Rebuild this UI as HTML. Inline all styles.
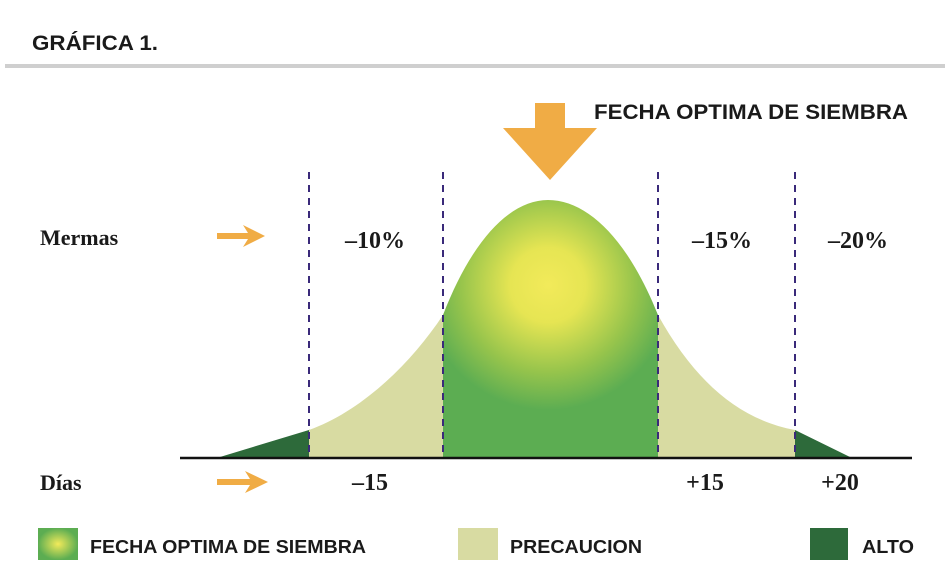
<!DOCTYPE html>
<html><head><meta charset="utf-8"><style>
body{margin:0;background:#fff;width:952px;height:578px;overflow:hidden}
svg{display:block}
.s{font-family:"Liberation Sans",sans-serif;font-weight:bold;fill:#1a1a1a}
.r{font-family:"Liberation Serif",serif;font-weight:bold;fill:#1a1a1a}
</style></head><body>
<svg width="952" height="578" viewBox="0 0 952 578">
<defs>
<radialGradient id="g" cx="548" cy="285" r="125" gradientUnits="userSpaceOnUse">
<stop offset="0" stop-color="#f2ea5a"/><stop offset="0.3" stop-color="#e6e553"/><stop offset="0.7" stop-color="#96c44c"/><stop offset="1" stop-color="#5cad52"/></radialGradient>
<radialGradient id="g2" cx="0.5" cy="0.5" r="0.5"><stop offset="0" stop-color="#f2ea5a"/><stop offset="1" stop-color="#5cad52"/></radialGradient>
<clipPath id="c"><path d="M220,457 L309,430 C360,412 410,365 443,315 C472,240 510,200 548,200 C588,200 628,240 658,315 C695,382 740,420 795,430 L850,457 Z"/></clipPath>
</defs>
<text x="32" y="50" class="s" font-size="21" textLength="126" lengthAdjust="spacingAndGlyphs">GRÁFICA 1.</text>
<rect x="5" y="64" width="940" height="4" fill="#cfcfcf"/>
<path d="M535,103 H565 V128 H597 L550,180 L503,128 H535 Z" fill="#f0ac45"/>
<text x="594" y="119" class="s" font-size="21" textLength="314" lengthAdjust="spacingAndGlyphs">FECHA OPTIMA DE SIEMBRA</text>
<g clip-path="url(#c)">
<rect x="200" y="190" width="110" height="270" fill="#2d6a3a"/>
<rect x="309" y="190" width="134" height="270" fill="#d8dba2"/>
<rect x="443" y="190" width="215" height="270" fill="url(#g)"/>
<rect x="658" y="190" width="137" height="270" fill="#d8dba2"/>
<rect x="795" y="190" width="70" height="270" fill="#2d6a3a"/>
</g>
<g stroke="#3a2a7a" stroke-width="2" stroke-dasharray="7,6">
<line x1="309" y1="172" x2="309" y2="457"/><line x1="443" y1="172" x2="443" y2="457"/>
<line x1="658" y1="172" x2="658" y2="457"/><line x1="795" y1="172" x2="795" y2="457"/>
</g>
<line x1="180" y1="458" x2="912" y2="458" stroke="#111" stroke-width="2.5"/>
<text x="40" y="245" class="r" font-size="22">Mermas</text>
<text x="40" y="490" class="r" font-size="22">Días</text>
<g fill="#f0ac45"><path d="M217,233 H248 L243,225 L265,236 L243,247 L248,239 H217 Z"/><path d="M217,479 H250 L245,471 L268,482 L245,493 L250,485 H217 Z"/></g>
<g class="r" font-size="24" text-anchor="middle">
<text x="375" y="248">–10%</text><text x="722" y="248">–15%</text><text x="858" y="248">–20%</text>
<text x="370" y="490">–15</text><text x="705" y="490">+15</text><text x="840" y="490">+20</text>
</g>
<rect x="38" y="528" width="40" height="32" fill="url(#g2)"/>
<text x="90" y="553" class="s" font-size="18" textLength="276" lengthAdjust="spacingAndGlyphs">FECHA OPTIMA DE SIEMBRA</text>
<rect x="458" y="528" width="40" height="32" fill="#d8dba2"/>
<text x="510" y="553" class="s" font-size="18" textLength="132" lengthAdjust="spacingAndGlyphs">PRECAUCION</text>
<rect x="810" y="528" width="38" height="32" fill="#2d6a3a"/>
<text x="862" y="553" class="s" font-size="18" textLength="52" lengthAdjust="spacingAndGlyphs">ALTO</text>
</svg>
</body></html>
